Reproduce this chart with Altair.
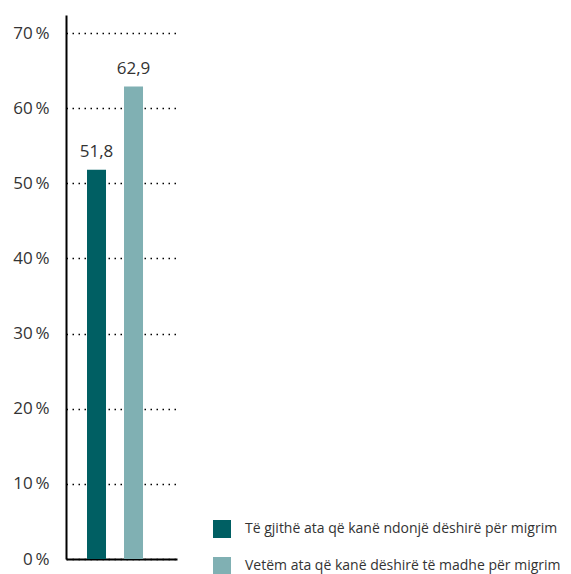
import altair as alt
import pandas as pd

categories = [
    "Të gjithë ata që kanë ndonjë dëshirë për migrim",
    "Vetëm ata që kanë dëshirë të madhe për migrim",
]
values = [51.8, 62.9]
colors = ["#005f63", "#80b0b3"]
y_ticks = [0, 10, 20, 30, 40, 50, 60, 70]

df = pd.DataFrame({"cat": categories, "value": values})

FONT = "Open Sans"

x_scale = alt.Scale(paddingInner=0.4865, paddingOuter=0.743, align=0.382)
x_axis = alt.Axis(title=None, labels=False, ticks=False, domainColor="#000000",
                  domainWidth=2, grid=False)
x = alt.X("cat:N", sort=categories, scale=x_scale, axis=x_axis)

base = alt.Chart(df).encode(x=x)

bars = base.mark_bar().encode(
    y=alt.Y("value:Q", scale=alt.Scale(domain=[0, 72.4], nice=False),
            axis=alt.Axis(values=y_ticks, title=None, grid=True, gridDash=[1.5, 4.5],
                          gridColor="#000000", gridWidth=1.5, domainColor="#000000",
                          domainWidth=2, ticks=False, labelPadding=17,
                          labelExpr="datum.value + '\u2009%'", labelFont=FONT,
                          labelFontSize=17, labelColor="#333333")),
    color=alt.Color("cat:N", sort=categories,
                    scale=alt.Scale(domain=categories, range=colors),
                    legend=alt.Legend(title=None, orient="none", legendX=147, legendY=505,
                                      symbolType="square", symbolSize=324, symbolStrokeWidth=0,
                                      labelFont=FONT, labelFontSize=14, labelColor="#333333",
                                      rowPadding=19, labelOffset=14, padding=0,
                                      labelLimit=400)),
)

labels = base.mark_text(baseline="alphabetic", dy=-12.5, font=FONT, fontSize=17,
                        color="#333333").encode(
    y=alt.Y("value:Q"),
    text=alt.Text("label:N"),
).transform_calculate(label="replace(format(datum.value, '.1f'), '.', ',')")

chart = alt.layer(bars, labels).properties(
    width=111, height=544,
    autosize=alt.AutoSizeParams(type="none"),
    padding={"left": 58, "top": 7, "right": 386, "bottom": 15},
).configure_view(stroke=None)

chart.save("out.html", embed_options={"renderer": "svg", "actions": False})
